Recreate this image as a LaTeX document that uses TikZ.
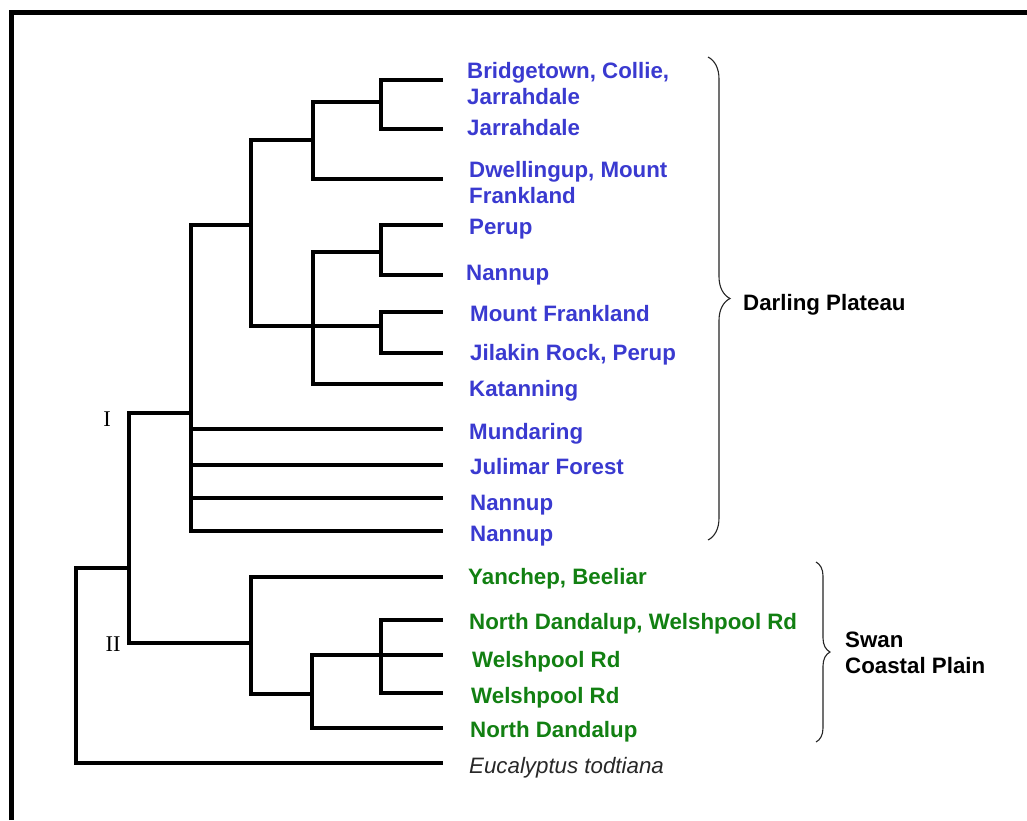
\documentclass[tikz,border=0pt]{standalone}
\usepackage{fontspec}
\setmainfont{Liberation Sans}
\newfontfamily\romanfont{Liberation Serif}
\usetikzlibrary{decorations.pathreplacing}
\definecolor{leafblue}{RGB}{58,58,208}
\definecolor{leafgreen}{RGB}{18,128,18}
\definecolor{outgroup}{RGB}{40,40,40}
\begin{document}
\begin{tikzpicture}[x=1pt,y=-1pt,
  branch/.style={line width=3.1pt, line cap=rect, line join=miter},
  lab/.style={anchor=base west, inner sep=0pt, font=\fontsize{22.3}{26}\selectfont\bfseries},
  dp/.style={lab, text=leafblue},
  sc/.style={lab, text=leafgreen},
  og/.style={lab, text=outgroup, font=\fontsize{22.3}{26}\selectfont\itshape},
  region/.style={lab, text=black},
  clade/.style={inner sep=0pt, font=\romanfont\fontsize{22.5}{26}\selectfont},
  bracestyle/.style={decorate, line width=1.1pt, draw=black!85}
]
\fill[white] (0,0) rectangle (1027,820);
\useasboundingbox (0,0) rectangle (1027,820);
% frame
\draw[line width=5pt, line cap=butt, line join=miter] (11.5,820) -- (11.5,12.5) -- (1027,12.5);

% leaf tips
\coordinate (t1) at (441,80);
\coordinate (t2) at (441,129);
\coordinate (t3) at (441,179);
\coordinate (t4) at (441,225);
\coordinate (t5) at (441,275);
\coordinate (t6) at (441,312);
\coordinate (t7) at (441,353);
\coordinate (t8) at (441,384);
\coordinate (t9) at (441,429);
\coordinate (t10) at (441,465);
\coordinate (t11) at (441,498);
\coordinate (t12) at (441,531);
\coordinate (t13) at (441,577);
\coordinate (t14) at (441,620);
\coordinate (t15) at (441,655);
\coordinate (t16) at (441,693);
\coordinate (t17) at (441,728);
\coordinate (t18) at (441,763);

% internal nodes
\coordinate (A) at (381,102);
\coordinate (B) at (313,140);
\coordinate (C) at (381,252);
\coordinate (D) at (381,326);
\coordinate (E) at (313,326);
\coordinate (F) at (251,225);
\coordinate (G) at (191,413);
\coordinate (H) at (381,655);
\coordinate (Ii) at (312,694);
\coordinate (J) at (251,643);
\coordinate (K) at (129,568);
\coordinate (R) at (76,568);

\draw[branch] (A) |- (t1) (A) |- (t2);
\draw[branch] (B) |- (A) (B) |- (t3);
\draw[branch] (C) |- (t4) (C) |- (t5);
\draw[branch] (D) |- (t6) (D) |- (t7);
\draw[branch] (E) |- (C) (E) |- (D) (E) |- (t8);
\draw[branch] (F) |- (B) (F) |- (E);
\draw[branch] (G) |- (F) (G) |- (t9) (G) |- (t10) (G) |- (t11) (G) |- (t12);
\draw[branch] (H) |- (t14) (H) |- (t15) (H) |- (t16);
\draw[branch] (Ii) |- (H) (Ii) |- (t17);
\draw[branch] (J) |- (t13) (J) |- (Ii);
\draw[branch] (K) |- (G) (K) |- (J);
\draw[branch] (R) -- (K) (R) |- (t18);

% clade labels
\node[clade] (cI) at (107,419) {I};
\node[clade] (cII) at (113,644) {II};

% leaf labels
\node[dp] (l1a) at (467,78) {Bridgetown, Collie,};
\node[dp] (l1b) at (467,104) {Jarrahdale};
\node[dp] (l2) at (467,135) {Jarrahdale};
\node[dp] (l3a) at (469,177) {Dwellingup, Mount};
\node[dp] (l3b) at (469,203) {Frankland};
\node[dp] (l4) at (469,234) {Perup};
\node[dp] (l5) at (466,280) {Nannup};
\node[dp] (l6) at (470,321) {Mount Frankland};
\node[dp] (l7) at (470,360) {Jilakin Rock, Perup};
\node[dp] (l8) at (469,396) {Katanning};
\node[dp] (l9) at (469,439) {Mundaring};
\node[dp] (l10) at (470,474) {Julimar Forest};
\node[dp] (l11) at (470,510) {Nannup};
\node[dp] (l12) at (470,541) {Nannup};
\node[sc] (l13) at (468,584) {Yanchep, Beeliar};
\node[sc] (l14) at (469,629) {North Dandalup, Welshpool Rd};
\node[sc] (l15) at (472,667) {Welshpool Rd};
\node[sc] (l16) at (471,703) {Welshpool Rd};
\node[sc] (l17) at (470,737) {North Dandalup};
\node[og] (l18) at (469,773) {Eucalyptus todtiana};

% braces
\coordinate (dpTop) at (708,57);
\coordinate (dpBot) at (708,540);
\draw[bracestyle, decoration={brace, amplitude=22pt}] (dpTop) -- (dpBot);
\node[region] (dpLab) at (743,310) {Darling Plateau};

\coordinate (scTop) at (816,562);
\coordinate (scBot) at (816,742);
\draw[bracestyle, decoration={brace, amplitude=14pt}] (scTop) -- (scBot);
\node[region] (scLab1) at (845,647) {Swan};
\node[region] (scLab2) at (845,673) {Coastal Plain};
\end{tikzpicture}
\end{document}
